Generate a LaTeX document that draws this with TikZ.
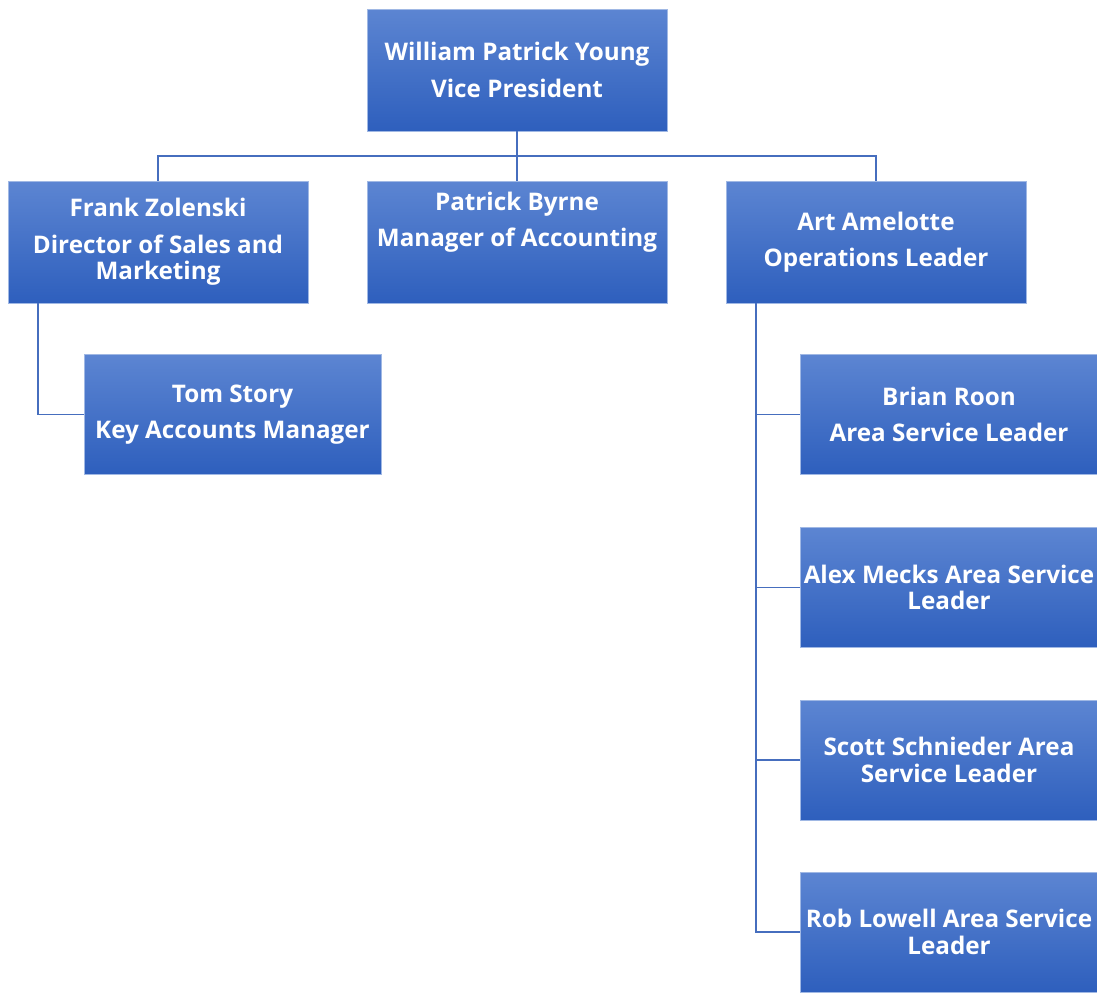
\documentclass[tikz,border=0pt]{standalone}
\usepackage{fontspec}
\setmainfont{Open Sans}
\usetikzlibrary{positioning}
\definecolor{boxtop}{RGB}{92,133,210}
\definecolor{boxbot}{RGB}{46,95,189}
\definecolor{boxrim}{RGB}{160,184,228}
\definecolor{wire}{RGB}{70,110,190}
\tikzset{
  % rectangle of the chart, gradient fill
  role/.style={rectangle, draw=boxrim, line width=0.5pt, top color=boxtop, bottom color=boxbot,
               minimum width=6cm, minimum height=2.44cm, inner sep=2pt,
               text=white, align=center, font=\fontsize{13.8pt}{15pt}\selectfont\bfseries},
  subrole/.style={role, minimum width=5.94cm, minimum height=2.4cm},
  txt/.style={text=white, align=center, font=\fontsize{13.8pt}{15pt}\selectfont\bfseries},
  link/.style={draw=wire, line width=1.1pt}
}
\begin{document}
\begin{tikzpicture}[x=0.02cm, y=-0.02cm]
  \useasboundingbox (0,0) rectangle (1097,992);

  % --- top level ---
  \node[role] (vp) at (517,70) {William Patrick Young\\[0.22cm]Vice President};

  % --- second level ---
  \node[role] (fz) at (158,242) {Frank Zolenski\\[0.2cm]Director of Sales and\\Marketing};
  \node[role, label={[txt, yshift=0.4cm]center:{Patrick Byrne\\[0.2cm]Manager of Accounting}}] (pb) at (517,242) {};
  \node[role] (aa) at (876,242) {Art Amelotte\\[0.2cm]Operations Leader};

  % --- third level ---
  \node[subrole] (ts) at (232.5,414.5) {Tom Story\\[0.2cm]Key Accounts Manager};
  \node[subrole] (br) at (949,414.5) {Brian Roon\\[0.2cm]Area Service Leader};
  \node[subrole] (am) at (949,587.5) {Alex Mecks Area Service\\Leader};
  \node[subrole] (ss) at (949,760) {Scott Schnieder Area\\Service Leader};
  \node[subrole] (rl) at (949,932) {Rob Lowell Area Service\\Leader};

  % --- connectors ---
  \coordinate (bus) at (517,156);
  \draw[link] (vp) -- (bus);
  \draw[link] (fz.north) |- (bus) -| (aa.north);
  \draw[link] (bus) -- (pb.north);

  \coordinate (fzdrop) at ([xshift=0.6cm]fz.south west);
  \draw[link] (fzdrop) |- (ts.west);

  \coordinate (spine) at ([xshift=0.6cm]aa.south west);
  \draw[link] (spine) |- (rl.west);
  \foreach \n in {br, am, ss}
    \draw[link] (spine |- \n.west) -- (\n.west);
\end{tikzpicture}
\end{document}
